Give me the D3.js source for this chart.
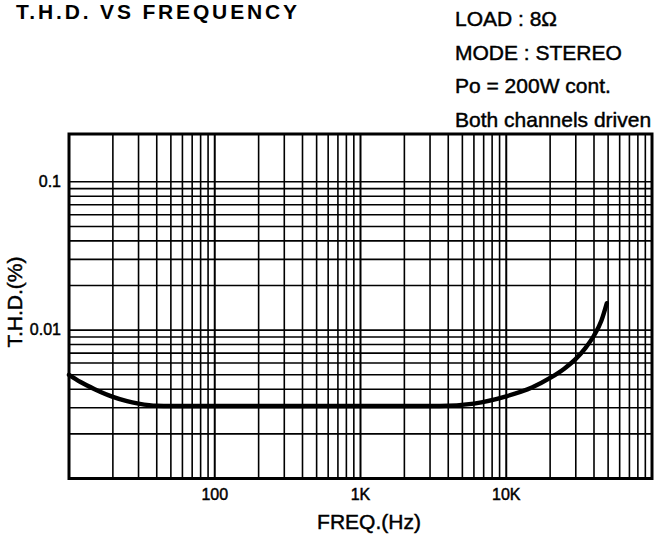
<!DOCTYPE html>
<html>
<head>
<meta charset="utf-8">
<script src="https://cdn.jsdelivr.net/npm/d3@7"></script>
<style>
	html, body { margin: 0; padding: 0; background: #fff; }
	text { font-family: "Liberation Sans", Arial, sans-serif; fill: #000; }
	/* the scan prints its labels a little heavier than a plain regular face */
	text.heavy { stroke: #000; stroke-width: 0.45px; }
</style>
</head>
<body>
<div id="chartContainer"></div>
<script>

//============================================================
// chart data
//============================================================

var freqs = [10, 12, 15, 20, 25, 30, 40, 50, 100, 1000, 3500, 6000, 10000,
             15000, 20000, 25000, 30000, 35000, 40000, 45000, 49000];
var thd   = [0.0050, 0.00447, 0.0040, 0.00355, 0.00332, 0.0032, 0.00309, 0.00308, 0.00308,
             0.00308, 0.00308, 0.0032, 0.00358, 0.0041, 0.00476, 0.0055, 0.0064,
             0.0076, 0.0092, 0.0116, 0.0152];

var xTickValues = [100, 1000, 10000],
    xTickLabels = ['100', '1K', '10K'],
    yTickValues = [0.1, 0.01],
    yTickLabels = ['0.1', '0.01'];

var infoLines = ['LOAD : 8\u03A9', 'MODE : STEREO', 'Po = 200W cont.', 'Both channels driven'];

//============================================================
// layout (note: "top" is taken by window.top, so prefixed names)
//============================================================

var width     = 657,
    height    = 536,
    plotLeft  = 69,
    plotRight = 652,
    plotTop   = 134,
    plotBot   = 478.5;

var svg = d3.select('#chartContainer')
	.append('svg')
	.attr('width', width)
	.attr('height', height);

var x = d3.scaleLog()
	.domain([10, 100000])
	.range([plotLeft, plotRight]);

var y = d3.scaleLog()
	.domain([0.001, 0.21])
	.range([plotBot, plotTop]);

// minor grid values, every 1..9 inside each decade
var xGrid = [],
    yGrid = [];
[10, 100, 1000, 10000].forEach(function(d){
	for (var i = 1; i < 10; i++) xGrid.push(d * i);
});
[0.001, 0.01].forEach(function(d){
	for (var i = 1; i < 10; i++) yGrid.push(d * i);
});
yGrid.push(0.1);

var grid = svg.append('g')
	.attr('class', 'grid')
	.attr('stroke', '#000');

grid.selectAll('line.vx')
	.data(xGrid.filter(function(d){ return d > 10; }))
	.enter()
	.append('line')
	.attr('class', 'vx')
	.attr('x1', function(d){ return x(d); })
	.attr('x2', function(d){ return x(d); })
	.attr('y1', plotTop)
	.attr('y2', plotBot)
	.attr('stroke-width', function(d){ return xTickValues.indexOf(d) >= 0 ? 2 : 1.6; });

grid.selectAll('line.hy')
	.data(yGrid.filter(function(d){ return d > 0.001; }))
	.enter()
	.append('line')
	.attr('class', 'hy')
	.attr('x1', plotLeft)
	.attr('x2', plotRight)
	.attr('y1', function(d){ return y(d); })
	.attr('y2', function(d){ return y(d); })
	.attr('stroke-width', 1.6);

// frame
svg.append('rect')
	.attr('x', plotLeft)
	.attr('y', plotTop)
	.attr('width', plotRight - plotLeft)
	.attr('height', plotBot - plotTop)
	.attr('fill', 'none')
	.attr('stroke', '#000')
	.attr('stroke-width', 3);

// the T.H.D. curve
var line = d3.line()
	.x(function(d){ return x(d[0]); })
	.y(function(d){ return y(d[1]); })
	.curve(d3.curveMonotoneX);

svg.append('path')
	.datum(d3.zip(freqs, thd))
	.attr('d', line)
	.attr('fill', 'none')
	.attr('stroke', '#000')
	.attr('stroke-width', 4.4)
	.attr('stroke-linecap', 'round');

// tick labels
svg.selectAll('text.xtick')
	.data(xTickValues)
	.enter()
	.append('text')
	.attr('class', 'xtick heavy')
	.attr('x', function(d){ return x(d); })
	.attr('y', 500)
	.attr('text-anchor', 'middle')
	.style('font-size', '16px')
	.text(function(d, i){ return xTickLabels[i]; });

svg.selectAll('text.ytick')
	.data(yTickValues)
	.enter()
	.append('text')
	.attr('class', 'ytick heavy')
	.attr('x', 61)
	.attr('y', function(d){ return y(d) + 5; })
	.attr('text-anchor', 'end')
	.style('font-size', '16px')
	.text(function(d, i){ return yTickLabels[i]; });

// axis titles
svg.append('text')
	.attr('class', 'heavy')
	.attr('x', 369)
	.attr('y', 529)
	.attr('text-anchor', 'middle')
	.style('font-size', '21px')
	.text('FREQ.(Hz)');

svg.append('text')
	.attr('class', 'heavy')
	.attr('transform', 'translate(22,302) rotate(-90)')
	.attr('text-anchor', 'middle')
	.style('font-size', '21px')
	.text('T.H.D.(%)');

// heading, close to the top edge like the scan (which crops it)
svg.append('text')
	.attr('x', 16)
	.attr('y', 19)
	.attr('textLength', 281)
	.attr('lengthAdjust', 'spacing')
	.style('font-size', '21px')
	.style('font-weight', 'bold')
	.text('T.H.D. VS FREQUENCY');

svg.selectAll('text.info')
	.data(infoLines)
	.enter()
	.append('text')
	.attr('class', 'info heavy')
	.attr('x', 455)
	.attr('y', function(d, i){ return 26 + i * 33.7; })
	.style('font-size', '21px')
	.text(function(d){ return d; });

</script>
</body>
</html>
